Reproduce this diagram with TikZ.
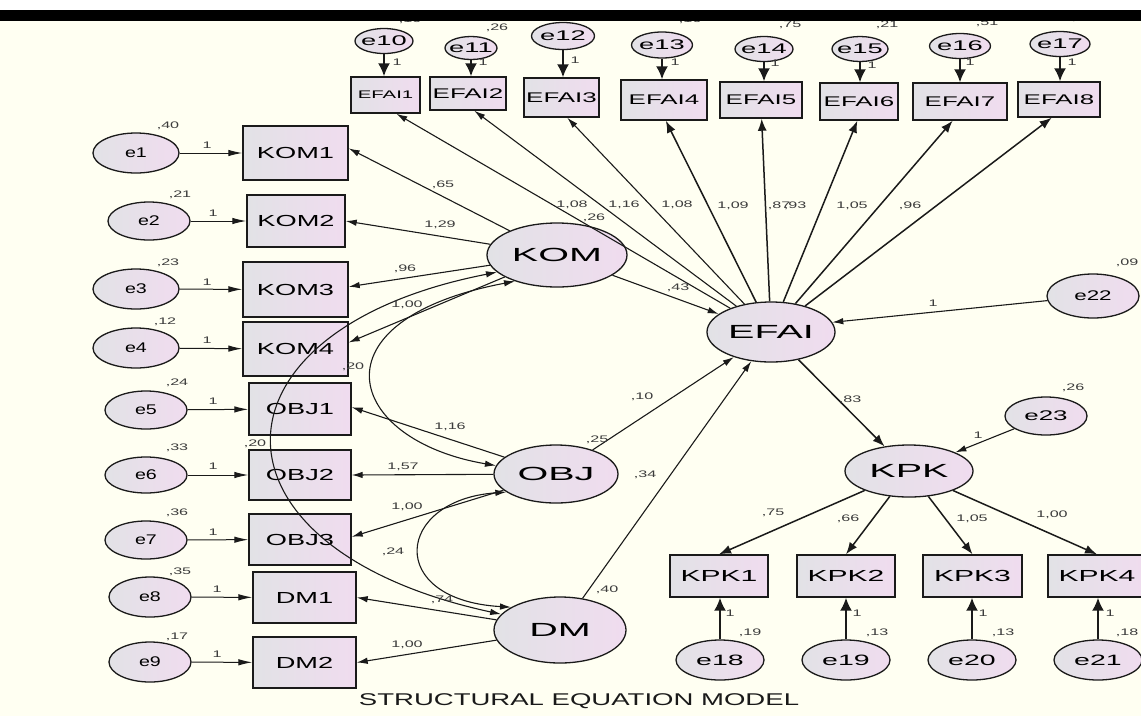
\documentclass[tikz,border=0pt]{standalone}
\usepackage{fontspec}
\setmainfont{Liberation Sans}
\usetikzlibrary{shapes.geometric,arrows.meta}
\definecolor{bgc}{HTML}{FFFFF2}
\definecolor{fillL}{HTML}{E2E2E6}
\definecolor{fillR}{HTML}{F0DCEF}
\definecolor{ink}{HTML}{1A1A1A}
\definecolor{labc}{HTML}{3C3C3C}
\newcommand{\mytxt}[3]{\makebox[0pt][c]{\scalebox{#2}[1]{\fontsize{#1}{#1}\selectfont #3}}}
\newcommand{\tL}[1]{\mytxt{19}{2.08}{#1}}
\newcommand{\tB}[1]{\mytxt{16}{1.7}{#1}}
\newcommand{\tT}[1]{\mytxt{14}{1.85}{#1}}
\newcommand{\tK}[1]{\mytxt{16}{1.88}{#1}}
\newcommand{\tE}[1]{\mytxt{14}{1.4}{#1}}
\newcommand{\tW}[1]{\mytxt{14}{1.95}{#1}}
\newcommand{\tS}[1]{\mytxt{9.5}{1.7}{#1}}
\tikzset{
  elli/.style={ellipse, draw=ink, line width=1.3pt, left color=fillL, right color=fillR, inner sep=0pt},
  boxx/.style={rectangle, draw=ink, line width=1.4pt, left color=fillL, right color=fillR, inner sep=0pt},
  lbl/.style={inner sep=0pt, text=labc},
  arr/.style={draw=ink, line width=1.1pt, -{Latex[length=11pt,width=6.5pt]}},
  arrE/.style={draw=ink, line width=1pt, -{Latex[length=14pt,width=6.5pt]}},
  arrM/.style={draw=ink, line width=1.5pt, -{Latex[length=12pt,width=9pt]}},
  arrB/.style={draw=ink, line width=2pt, -{Latex[length=13pt,width=12pt]}},
  cov/.style={draw=ink, line width=1.1pt, {Latex[length=11pt,width=6.5pt]}-{Latex[length=11pt,width=6.5pt]}},
}
\begin{document}
\begin{tikzpicture}[x=1pt,y=-1pt]
\useasboundingbox (0,0) rectangle (1141,716);
\clip (0,0) rectangle (1141,716);
\fill[bgc] (0,0) rectangle (1141,716);

% ---- latent variables
\node[elli, minimum width=140pt, minimum height=64pt] (KOM) at (557,255) {\tL{KOM}};
\node[elli, minimum width=124pt, minimum height=58pt] (OBJ) at (556,474) {\tL{OBJ}};
\node[elli, minimum width=132pt, minimum height=66pt] (DM) at (560,630) {\tL{DM}};
\node[elli, minimum width=128pt, minimum height=60pt] (EFAI) at (771,332) {\tL{EFAI}};
\node[elli, minimum width=128pt, minimum height=52pt] (KPK) at (909,471) {\tL{KPK}};

% ---- left indicators
\node[boxx, minimum width=105pt, minimum height=54pt] (KOM1) at (295.5,153) {\tB{KOM1}};
\node[boxx, minimum width=98pt, minimum height=52pt] (KOM2) at (296,221) {\tB{KOM2}};
\node[boxx, minimum width=105pt, minimum height=55pt] (KOM3) at (295.5,289.5) {\tB{KOM3}};
\node[boxx, minimum width=105pt, minimum height=54pt] (KOM4) at (295.5,349) {\tB{KOM4}};
\node[boxx, minimum width=102pt, minimum height=52pt] (OBJ1) at (300,409) {\tB{OBJ1}};
\node[boxx, minimum width=102pt, minimum height=50pt] (OBJ2) at (300,475) {\tB{OBJ2}};
\node[boxx, minimum width=102pt, minimum height=51pt] (OBJ3) at (300,539.5) {\tB{OBJ3}};
\node[boxx, minimum width=103pt, minimum height=51pt] (DM1) at (304.5,597.5) {\tB{DM1}};
\node[boxx, minimum width=103pt, minimum height=51pt] (DM2) at (304.5,662.5) {\tB{DM2}};

% ---- top indicators
\node[boxx, minimum width=69pt, minimum height=36pt] (EFAI1) at (385.5,95) {\mytxt{11}{1.85}{EFAI1}};
\node[boxx, minimum width=76pt, minimum height=33pt] (EFAI2) at (468,93.5) {\tT{EFAI2}};
\node[boxx, minimum width=75pt, minimum height=39pt] (EFAI3) at (561.5,97.5) {\tT{EFAI3}};
\node[boxx, minimum width=86pt, minimum height=40pt] (EFAI4) at (664,100) {\tT{EFAI4}};
\node[boxx, minimum width=82pt, minimum height=36pt] (EFAI5) at (761,100) {\tT{EFAI5}};
\node[boxx, minimum width=78pt, minimum height=37pt] (EFAI6) at (859,101.5) {\tT{EFAI6}};
\node[boxx, minimum width=94pt, minimum height=37pt] (EFAI7) at (960,101.5) {\tT{EFAI7}};
\node[boxx, minimum width=82pt, minimum height=35pt] (EFAI8) at (1059,99.5) {\tT{EFAI8}};

% ---- bottom right indicators
\node[boxx, minimum width=98pt, minimum height=42pt] (KPK1) at (719,576) {\tK{KPK1}};
\node[boxx, minimum width=98pt, minimum height=42pt] (KPK2) at (846,576) {\tK{KPK2}};
\node[boxx, minimum width=99pt, minimum height=42pt] (KPK3) at (972.5,576) {\tK{KPK3}};
\node[boxx, minimum width=98pt, minimum height=42pt] (KPK4) at (1097,576) {\tK{KPK4}};

% ---- error terms
\node[elli, minimum width=86pt, minimum height=40pt] (e1) at (136,153) {\tE{e1}};
\node[elli, minimum width=82pt, minimum height=38pt] (e2) at (149,221) {\tE{e2}};
\node[elli, minimum width=86pt, minimum height=40pt] (e3) at (136,289) {\tE{e3}};
\node[elli, minimum width=86pt, minimum height=40pt] (e4) at (136,348) {\tE{e4}};
\node[elli, minimum width=82pt, minimum height=38pt] (e5) at (146,410) {\tE{e5}};
\node[elli, minimum width=82pt, minimum height=36pt] (e6) at (146,475) {\tE{e6}};
\node[elli, minimum width=82pt, minimum height=38pt] (e7) at (146,540) {\tE{e7}};
\node[elli, minimum width=82pt, minimum height=40pt] (e8) at (150,597) {\tE{e8}};
\node[elli, minimum width=82pt, minimum height=40pt] (e9) at (150,662) {\tE{e9}};

\node[elli, minimum width=58pt, minimum height=25pt] (e10) at (384,41) {\tW{e10}};
\node[elli, minimum width=52pt, minimum height=23pt] (e11) at (471,48) {\tW{e11}};
\node[elli, minimum width=63pt, minimum height=27pt] (e12) at (563,36) {\tW{e12}};
\node[elli, minimum width=61pt, minimum height=26pt] (e13) at (662,45) {\tW{e13}};
\node[elli, minimum width=58pt, minimum height=25pt] (e14) at (764,49) {\tW{e14}};
\node[elli, minimum width=56pt, minimum height=25pt] (e15) at (860,49) {\tW{e15}};
\node[elli, minimum width=61pt, minimum height=25pt] (e16) at (960,46) {\tW{e16}};
\node[elli, minimum width=60pt, minimum height=25pt] (e17) at (1060,44) {\tW{e17}};

\node[elli, minimum width=88pt, minimum height=40pt] (e18) at (720,660) {\mytxt{15}{1.9}{e18}};
\node[elli, minimum width=88pt, minimum height=40pt] (e19) at (846,660) {\mytxt{15}{1.9}{e19}};
\node[elli, minimum width=88pt, minimum height=40pt] (e20) at (972,660) {\mytxt{15}{1.9}{e20}};
\node[elli, minimum width=88pt, minimum height=40pt] (e21) at (1098,660) {\mytxt{15}{1.9}{e21}};
\node[elli, minimum width=92pt, minimum height=44pt] (e22) at (1093,296) {\mytxt{14}{1.6}{e22}};
\node[elli, minimum width=82pt, minimum height=38pt] (e23) at (1046,416) {\mytxt{14}{1.85}{e23}};

% ---- error arrows (left)
\draw[arrE] (e1) -- (KOM1);
\draw[arrE] (e2) -- (KOM2);
\draw[arrE] (e3) -- (KOM3);
\draw[arrE] (e4) -- (KOM4);
\draw[arrE] (e5) -- (OBJ1);
\draw[arrE] (e6) -- (OBJ2);
\draw[arrE] (e7) -- (OBJ3);
\draw[arrE] (e8) -- (DM1);
\draw[arrE] (e9) -- (DM2);
% ---- error arrows (top)
\draw[arrB] (e10.south) -- (e10.south |- EFAI1.north);
\draw[arrB] (e11.south) -- (e11.south |- EFAI2.north);
\draw[arrB] (e12.south) -- (e12.south |- EFAI3.north);
\draw[arrB] (e13.south) -- (e13.south |- EFAI4.north);
\draw[arrB] (e14.south) -- (e14.south |- EFAI5.north);
\draw[arrB] (e15.south) -- (e15.south |- EFAI6.north);
\draw[arrB] (e16.south) -- (e16.south |- EFAI7.north);
\draw[arrB] (e17.south) -- (e17.south |- EFAI8.north);
% ---- error arrows (bottom)
\draw[arrB] (e18.north) -- (e18.north |- KPK1.south);
\draw[arrB] (e19.north) -- (e19.north |- KPK2.south);
\draw[arrB] (e20.north) -- (e20.north |- KPK3.south);
\draw[arrB] (e21.north) -- (e21.north |- KPK4.south);
\draw[arr] (e22) -- (EFAI.9);
\draw[arr] (e23) -- (KPK);

% ---- loadings
\draw[arr] (KOM) -- (KOM1.5);
\draw[arr] (KOM) -- (KOM2.0);
\draw[arr] (KOM) -- (KOM3.3);
\draw[arr] (KOM) -- (KOM4.7);
\draw[arr] (OBJ) -- (OBJ1.2);
\draw[arr] (OBJ) -- (OBJ2.0);
\draw[arr] (OBJ) -- (OBJ3.3);
\draw[arr] (DM) -- (DM1.0);
\draw[arr] (DM) -- (DM2.0);
\draw[arr] (EFAI) -- (EFAI1.300);
\draw[arr] (EFAI) -- (EFAI2.290);
\draw[arr] (EFAI) -- (EFAI3.286);
\draw[arrM] (EFAI) -- (EFAI4.275);
\draw[arrM] (EFAI) -- (EFAI5.272);
\draw[arrM] (EFAI) -- (EFAI6.265);
\draw[arrM] (EFAI) -- (EFAI7.249);
\draw[arrM] (EFAI) -- (EFAI8.248);
\draw[arrM] (KPK) -- (KPK1.north);
\draw[arrM] (KPK) -- (KPK2.north);
\draw[arrM] (KPK) -- (KPK3.north);
\draw[arrM] (KPK) -- (KPK4.north);

% ---- structural paths
\draw[arr] (KOM) -- (EFAI.161);
\draw[arr] (OBJ) -- (EFAI.214);
\draw[arr] (DM) -- (EFAI.236);
\draw[arrM] (EFAI) -- (KPK);

% ---- covariances
\draw[cov] (KOM.212) .. controls (310,320) and (345,440) .. (OBJ.172);
\draw[cov] (KOM.196) .. controls (200,330) and (195,548) .. (DM.165);
\draw[cov] (OBJ.200) .. controls (395,500) and (385,600) .. (DM.155);

% ---- labels: error variances (left)
\node[lbl] (v1) at (168,126) {\tS{,40}};
\node[lbl] (v2) at (180,195) {\tS{,21}};
\node[lbl] (v3) at (168,263) {\tS{,23}};
\node[lbl] (v4) at (165,322) {\tS{,12}};
\node[lbl] (v5) at (177,383) {\tS{,24}};
\node[lbl] (v6) at (177,448) {\tS{,33}};
\node[lbl] (v7) at (177,513) {\tS{,36}};
\node[lbl] (v8) at (180,572) {\tS{,35}};
\node[lbl] (v9) at (177,637) {\tS{,17}};
% "1" labels (left)
\node[lbl] (o1) at (207,145) {\tS{1}};
\node[lbl] (o2) at (213,213) {\tS{1}};
\node[lbl] (o3) at (207,282) {\tS{1}};
\node[lbl] (o4) at (207,340) {\tS{1}};
\node[lbl] (o5) at (213,401) {\tS{1}};
\node[lbl] (o6) at (213,466) {\tS{1}};
\node[lbl] (o7) at (213,532) {\tS{1}};
\node[lbl] (o8) at (217,589) {\tS{1}};
\node[lbl] (o9) at (217,654) {\tS{1}};
% top error labels
\node[lbl] (v10) at (410,20) {\tS{,16}};
\node[lbl] (v11) at (497,28) {\tS{,26}};
\node[lbl] (v13) at (690,20) {\tS{,16}};
\node[lbl] (v14) at (790,25) {\tS{,75}};
\node[lbl] (v15) at (887,25) {\tS{,21}};
\node[lbl] (v16) at (987,23) {\tS{,51}};
\node[lbl] (v17) at (1083,18) {\tS{,21}};
\node[lbl] (o10) at (397,62) {\tS{1}};
\node[lbl] (o11) at (483,62) {\tS{1}};
\node[lbl] (o12) at (575,60) {\tS{1}};
\node[lbl] (o13) at (675,62) {\tS{1}};
\node[lbl] (o14) at (775,63) {\tS{1}};
\node[lbl] (o15) at (872,65) {\tS{1}};
\node[lbl] (o16) at (970,62) {\tS{1}};
\node[lbl] (o17) at (1072,62) {\tS{1}};
% bottom error labels
\node[lbl] (v18) at (750,633) {\tS{,19}};
\node[lbl] (v19) at (877,633) {\tS{,13}};
\node[lbl] (v20) at (1003,633) {\tS{,13}};
\node[lbl] (v21) at (1127,633) {\tS{,18}};
\node[lbl] (o18) at (730,613) {\tS{1}};
\node[lbl] (o19) at (857,613) {\tS{1}};
\node[lbl] (o20) at (983,613) {\tS{1}};
\node[lbl] (o21) at (1110,613) {\tS{1}};
\node[lbl] (v22) at (1127,263) {\tS{,09}};
\node[lbl] (o22) at (933,303) {\tS{1}};
\node[lbl] (v23) at (1073,388) {\tS{,26}};
\node[lbl] (o23) at (978,435) {\tS{1}};
% loadings
\node[lbl] (w1) at (443,185) {\tS{,65}};
\node[lbl] (w2) at (440,225) {\tS{1,29}};
\node[lbl] (w3) at (405,269) {\tS{,96}};
\node[lbl] (w4) at (407,305) {\tS{1,00}};
\node[lbl] (w5) at (450,427) {\tS{1,16}};
\node[lbl] (w6) at (403,467) {\tS{1,57}};
\node[lbl] (w7) at (407,507) {\tS{1,00}};
\node[lbl] (w8) at (442,600) {\tS{,74}};
\node[lbl] (w9) at (407,645) {\tS{1,00}};
\node[lbl] (c1) at (353,367) {\tS{,20}};
\node[lbl] (c2) at (255,444) {\tS{,20}};
\node[lbl] (c3) at (393,552) {\tS{,24}};
\node[lbl] (vk) at (594,218) {\tS{,26}};
\node[lbl] (vo) at (597,440) {\tS{,25}};
\node[lbl] (vd) at (607,590) {\tS{,40}};
\node[lbl] (s1) at (678,288) {\tS{,43}};
\node[lbl] (s2) at (642,397) {\tS{,10}};
\node[lbl] (s3) at (645,475) {\tS{,34}};
\node[lbl] (s4) at (850,400) {\tS{,83}};
\node[lbl] (f1) at (572,205) {\tS{1,08}};
\node[lbl] (f2) at (624,205) {\tS{1,16}};
\node[lbl] (f3) at (677,205) {\tS{1,08}};
\node[lbl] (f4) at (733,206) {\tS{1,09}};
\node[lbl] (f5) at (779,206) {\tS{,87}};
\node[lbl] (f6) at (795,206) {\tS{,93}};
\node[lbl] (f7) at (852,206) {\tS{1,05}};
\node[lbl] (f8) at (910,206) {\tS{,96}};
\node[lbl] (k1) at (773,513) {\tS{,75}};
\node[lbl] (k2) at (848,519) {\tS{,66}};
\node[lbl] (k3) at (972,519) {\tS{1,05}};
\node[lbl] (k4) at (1052,515) {\tS{1,00}};

% title
\node[inner sep=0pt, text=ink] (title) at (579,701) {\mytxt{17}{1.62}{STRUCTURAL EQUATION MODEL}};

% top bar
\fill[white] (0,0) rectangle (1141,10);
\fill[black] (0,10) rectangle (1141,21);
\end{tikzpicture}
\end{document}
